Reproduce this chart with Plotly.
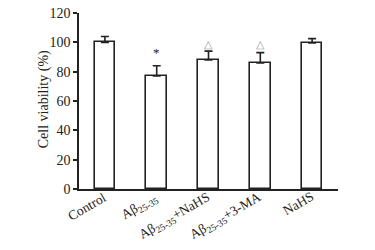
import plotly.graph_objects as go

categories = ["Control", "Aβ<sub>25-35</sub>", "Aβ<sub>25-35</sub>+NaHS", "Aβ<sub>25-35</sub>+3-MA", "NaHS"]
values = [100, 77, 88, 86, 99.5]
errors = [4, 7, 6, 7, 3]
marks = ["", "*", "△", "△", ""]
mark_y = [None, 93, 99, 99, None]
y_ticks = [0, 20, 40, 60, 80, 100, 120]
y_title = "Cell viability (%)"

font = "Liberation Serif, Times New Roman, serif"

fig = go.Figure()
fig.add_trace(go.Bar(
    x=categories, y=values,
    width=0.4,
    marker=dict(color="white", line=dict(color="#222", width=1.6)),
    error_y=dict(type="data", array=errors, arrayminus=[0]*len(errors), symmetric=False,
                 color="#222", thickness=1.6, width=4),
))
for c, m, my in zip(categories, marks, mark_y):
    if m:
        fig.add_annotation(x=c, y=my, text=m, showarrow=False,
                           font=dict(family=font, size=13 if m == "*" else 11,
                                     color="#222" if m == "*" else "#999"))
for c in categories:
    fig.add_annotation(x=c, xref="x", y=0.015, yref="paper", text=c, showarrow=False,
                       textangle=-30, xanchor="right", yanchor="top", xshift=7,
                       font=dict(family=font, size=13.5, color="#222"))
fig.add_annotation(x=-0.135, xref="paper", y=0.51, yref="paper", text=y_title,
                   showarrow=False, textangle=-90, xanchor="center", yanchor="middle",
                   font=dict(family=font, size=14, color="#222"))

fig.update_layout(
    width=375, height=250,
    margin=dict(l=79, r=37, t=13, b=61),
    paper_bgcolor="white", plot_bgcolor="white",
    showlegend=False,
    font=dict(family=font, size=14, color="#222"),
    bargap=0,
)
fig.update_xaxes(
    type="category", range=[-0.5, 4.5], showticklabels=False, automargin=False,
    showline=True, linecolor="#222", linewidth=1.6,
    ticks="", showgrid=False, zeroline=False,
)
fig.update_yaxes(
    range=[0, 120], tickvals=y_ticks, showline=True, linecolor="#222", linewidth=1.6,
    ticks="outside", ticklen=4, tickwidth=1.6, tickcolor="#222", showgrid=False, zeroline=False,
    tickfont=dict(family=font, size=14), automargin=False, ticklabeloverflow="allow",
)
fig.write_html("out.html", config={"displayModeBar": False},
               post_script="document.body.style.margin='0';")
